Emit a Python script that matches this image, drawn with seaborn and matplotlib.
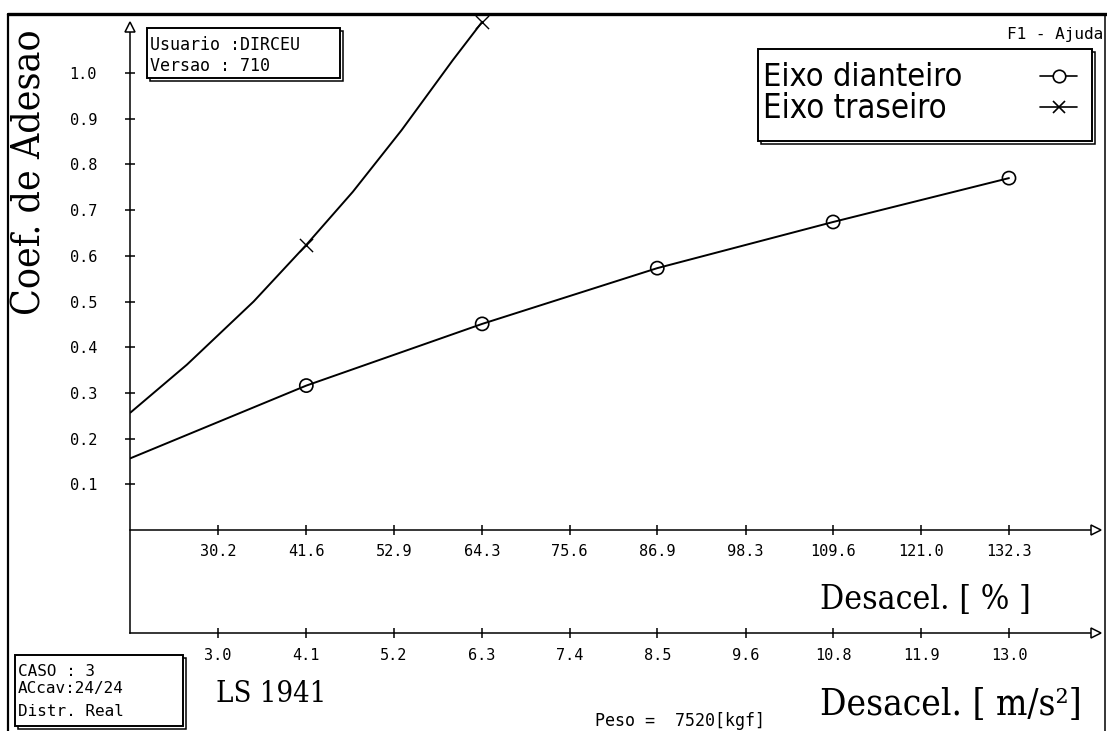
import numpy as np
import pandas as pd
import matplotlib
matplotlib.use("Agg")
import matplotlib.pyplot as plt
from matplotlib.lines import Line2D
from matplotlib.patches import Rectangle
from matplotlib.font_manager import FontProperties, fontManager
import seaborn as sns

# ---------------- data ----------------
pct_ticks = [30.2, 41.6, 52.9, 64.3, 75.6, 86.9, 98.3, 109.6, 121.0, 132.3]
pct_labels = ["30.2", "41.6", "52.9", "64.3", "75.6", "86.9", "98.3", "109.6", "121.0", "132.3"]
ms2_labels = ["3.0", "4.1", "5.2", "6.3", "7.4", "8.5", "9.6", "10.8", "11.9", "13.0"]
y_ticks = [0.1, 0.2, 0.3, 0.4, 0.5, 0.6, 0.7, 0.8, 0.9, 1.0]
y_labels = ["0.1", "0.2", "0.3", "0.4", "0.5", "0.6", "0.7", "0.8", "0.9", "1.0"]

diant_x = [18.9, 41.6, 64.3, 86.9, 109.6, 132.3]
diant_y = [0.157, 0.316, 0.451, 0.573, 0.674, 0.770]
diant_mark_x = [41.6, 64.3, 86.9, 109.6, 132.3]
diant_mark_y = [0.316, 0.451, 0.573, 0.674, 0.770]

tras_x = [18.9, 26.2, 34.8, 41.6, 47.6, 53.9, 60.5, 64.3]
tras_y = [0.257, 0.362, 0.500, 0.624, 0.740, 0.875, 1.028, 1.112]
tras_mark_x = [41.6, 64.3]
tras_mark_y = [0.624, 1.112]

series_names = ["Eixo dianteiro", "Eixo traseiro"]
G = 9.81

# ---------------- style ----------------
sns.set_style("ticks", rc={"axes.edgecolor": "black", "xtick.color": "black",
                           "ytick.color": "black", "text.color": "black"})
plt.rcParams["font.family"] = ["DejaVu Sans Mono"]
mono = "DejaVu Sans Mono"


def wnum(w):
    if isinstance(w, (int, float)):
        return w
    return {"ultralight": 200, "light": 300, "normal": 400, "regular": 400,
            "book": 400, "medium": 500, "semibold": 600, "bold": 700}.get(str(w), 400)


def find_condensed(families):
    for fam in families:
        best = None
        for f in fontManager.ttflist:
            if f.name != fam or f.style != "normal":
                continue
            cond = f.stretch in ("condensed", "semi-condensed", "extra-condensed") or \
                "Narrow" in f.name or "Condensed" in f.fname
            if not cond:
                continue
            score = abs(wnum(f.weight) - 350)
            if best is None or score < best[0]:
                best = (score, f)
        if best is not None:
            return FontProperties(fname=best[1].fname)
    return None


sans_fp = find_condensed(["Liberation Sans Narrow", "DejaVu Sans", "Noto Sans",
                          "Open Sans", "Roboto", "Lato", "Inter"])
if sans_fp is None:
    sans_fp = FontProperties(family="DejaVu Sans")
serif_fp = find_condensed(["DejaVu Serif", "Noto Serif", "Liberation Serif"])
if serif_fp is None:
    serif_fp = FontProperties(family="Liberation Serif")

W, H = 1107, 731
fig = plt.figure(figsize=(W / 100, H / 100), dpi=100)


def fx(x):
    return x / W


def fy(y):
    return 1 - y / H


# axes: x pixels 130..1100, y pixels 14..633
ax = fig.add_axes([fx(130), fy(633), (1100 - 130) / W, (633 - 14) / H])
px_per_pct = 7.747
px_per_unit = 457.0
x0 = 18.84
x1 = x0 + 970 / px_per_pct
y0 = -(633 - 530) / px_per_unit
y1 = (530 - 14) / px_per_unit
ax.set_xlim(x0, x1)
ax.set_ylim(y0, y1)

df = pd.concat([
    pd.DataFrame({"x": diant_x, "y": diant_y, "serie": series_names[0]}),
    pd.DataFrame({"x": tras_x, "y": tras_y, "serie": series_names[1]}),
])
sns.lineplot(data=df, x="x", y="y", hue="serie", palette=["black", "black"],
             estimator=None, sort=False, legend=False, linewidth=1.4, ax=ax)
sns.scatterplot(x=diant_mark_x, y=diant_mark_y, marker="o", s=90,
                facecolor="none", edgecolor="black", linewidth=1.2, ax=ax, zorder=4)
sns.scatterplot(x=tras_mark_x, y=tras_mark_y, marker="x", s=90,
                color="black", linewidth=1.0, ax=ax, zorder=4)

ax.set_xlabel("")
ax.set_ylabel("")
for s in ["top", "right"]:
    ax.spines[s].set_visible(False)
ax.spines["bottom"].set_position(("data", 0))
ax.spines["left"].set_bounds(y0, 1.10)
for s in ["bottom", "left"]:
    ax.spines[s].set_linewidth(1.1)

ax.set_xticks(pct_ticks, pct_labels)
ax.set_yticks(y_ticks, y_labels)
ax.tick_params(axis="x", direction="inout", length=6.5, width=1.1, pad=7, labelsize=11)
ax.tick_params(axis="y", direction="inout", length=6.5, width=1.1, pad=20.5, labelsize=11)

sec = ax.secondary_xaxis("bottom", functions=(lambda p: p * G / 100, lambda a: a * 100 / G))
sec.set_xticks([p * G / 100 for p in pct_ticks], ms2_labels)
sec.tick_params(axis="x", direction="inout", length=6.5, width=1.1, pad=7.5, labelsize=11)
sec.spines["bottom"].set_linewidth(1.1)

# axis arrow heads
ax.plot([x0], [1.0996], marker="^", ms=7.5, mfc="white", mec="black", mew=1.1,
        clip_on=False, zorder=6)
ax.plot([x1 - 4 / px_per_pct], [0], marker=">", ms=7.5, mfc="white", mec="black",
        mew=1.1, clip_on=False, zorder=6)
ax.plot([x1 - 4 / px_per_pct], [y0], marker=">", ms=7.5, mfc="white", mec="black",
        mew=1.1, clip_on=False, zorder=6)

# frame border
fig.add_artist(Line2D([fx(8), fx(1107)], [fy(14), fy(14)], color="black", lw=2.4,
                      transform=fig.transFigure))
fig.add_artist(Line2D([fx(8), fx(8)], [fy(14), fy(731)], color="black", lw=1.6,
                      transform=fig.transFigure))
fig.add_artist(Line2D([fx(1105), fx(1105)], [fy(14), fy(731)], color="black", lw=1.1,
                      transform=fig.transFigure))


def box(xa, ya, xb, yb):
    sh = Rectangle((fx(xa + 3), fy(yb + 3)), (xb - xa) / W, (yb - ya) / H,
                   transform=fig.transFigure, fill=False, edgecolor="black", lw=1.1)
    mn = Rectangle((fx(xa), fy(yb)), (xb - xa) / W, (yb - ya) / H,
                   transform=fig.transFigure, facecolor="white", edgecolor="black", lw=1.4)
    fig.add_artist(sh)
    fig.add_artist(mn)


renderer = fig.canvas.get_renderer()


def fit_text(x, y, s, fp, target_w, base=20, **kw):
    t = fig.text(fx(x), fy(y), s, fontproperties=fp, size=base, **kw)
    w = t.get_window_extent(renderer).width
    t.set_fontsize(base * target_w / w)
    return t


# legend (key box drawn in the style of the reference)
box(758, 49, 1092, 141)
for i, (name, mk) in enumerate(zip(series_names, ["o", "x"])):
    yc = [77, 108][i]
    fit_text(763, yc, name, sans_fp, [199, 184][i], va="center", ha="left")
    fig.add_artist(Line2D([fx(1040), fx(1077)], [fy(yc - 1)] * 2, color="black", lw=1.2,
                          transform=fig.transFigure))
    fig.add_artist(Line2D([fx(1058.5)], [fy(yc - 1)], color="black", marker=mk, ms=9,
                          mfc="white" if mk == "o" else "none", mew=1.2, lw=0,
                          transform=fig.transFigure))

box(147, 28, 340, 78)
fig.text(fx(150), fy(45), "Usuario :DIRCEU", family=mono, size=12, va="center", ha="left")
fig.text(fx(150), fy(66), "Versao : 710", family=mono, size=12, va="center", ha="left")

box(15, 655, 183, 726)
fig.text(fx(18), fy(671), "CASO : 3", family=mono, size=11.5, va="center", ha="left")
fig.text(fx(18), fy(689), "ACcav:24/24", family=mono, size=11.5, va="center", ha="left")
fig.text(fx(18), fy(711), "Distr. Real", family=mono, size=11.5, va="center", ha="left")

fig.text(fx(1103), fy(34), "F1 - Ajuda", family=mono, size=11.5, va="center", ha="right")

t = fig.text(fx(30), fy(172), "Coef. de Adesao", fontproperties=serif_fp, size=28,
             rotation=90, va="center", ha="center")
h = t.get_window_extent(renderer).height
t.set_fontsize(28 * 285 / h)
fit_text(820, 600, "Desacel. [ % ]", serif_fp, 210, va="center", ha="left")
fit_text(820, 705, "Desacel. [ m/s²]", serif_fp, 262, va="center", ha="left")
fit_text(216, 694, "LS 1941", serif_fp, 110, va="center", ha="left")
fig.text(fx(595), fy(721), "Peso =  7520[kgf]", family=mono, size=12, va="center", ha="left")

fig.savefig("out.png", dpi=100)
